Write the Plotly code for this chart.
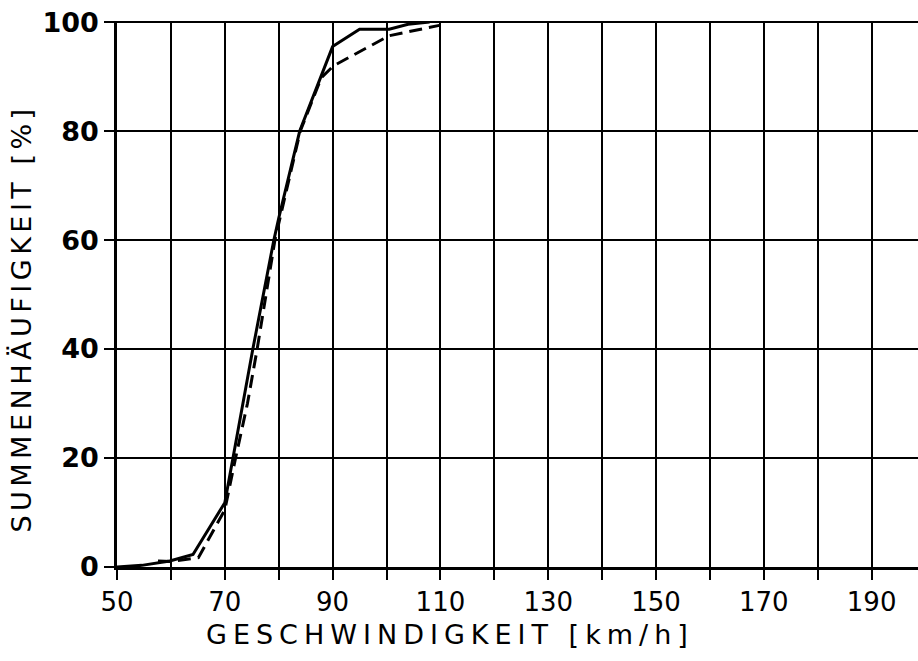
import plotly.graph_objects as go

# Data
solid_x = [50, 54.6, 59.8, 64.1, 70, 71.5, 73.4, 75.2, 79.1, 80, 83.9, 90, 95, 100.5, 104, 108]
solid_y = [0, 0.3, 1.1, 2.3, 11.8, 20, 30, 40, 60, 64, 80, 95.5, 98.7, 98.7, 99.6, 100]

dash_x = [57.6, 60, 65.1, 70, 72, 74.2, 76, 79.3, 80, 84, 87.9, 90.2, 100.5, 109.8]
dash_y = [1.1, 1.0, 1.7, 10.5, 20, 30, 40, 60, 63, 80, 89.8, 92, 97.5, 99.4]

x_title = "GESCHWINDIGKEIT [km/h]"
y_title = "SUMMENHÄUFIGKEIT [%]"

fig = go.Figure()
fig.add_trace(go.Scatter(x=solid_x, y=solid_y, mode="lines",
                         line=dict(color="black", width=3), showlegend=False))
fig.add_trace(go.Scatter(x=dash_x, y=dash_y, mode="lines",
                         line=dict(color="black", width=3, dash="13px,7px"), showlegend=False))

ytick_font = dict(family="DejaVu Sans, sans-serif", size=27, color="black", weight="bold")
xtick_font = dict(family="DejaVu Sans, sans-serif", size=26, color="black")
title_font = dict(family="DejaVu Sans, sans-serif", size=27, color="black")

fig.update_layout(
    width=918, height=661,
    margin=dict(l=117, r=0, t=21, b=94),
    plot_bgcolor="white", paper_bgcolor="white",
    xaxis=dict(
        range=[50, 198.6], tick0=50, dtick=20,
        showgrid=True, gridcolor="black", gridwidth=2,
        minor=dict(dtick=10, tick0=50, showgrid=True, gridcolor="black", gridwidth=2,
                   ticks="outside", ticklen=10, tickcolor="black", tickwidth=1.5),
        ticks="outside", ticklen=10, tickcolor="black", tickwidth=1.5,
        showline=True, linecolor="black", linewidth=2.5,
        tickfont=xtick_font, zeroline=False,
    ),
    yaxis=dict(
        range=[0, 100.2], tick0=0, dtick=20,
        showgrid=True, gridcolor="black", gridwidth=2,
        ticks="outside", ticklen=10, tickcolor="black", tickwidth=1.5,
        showline=True, linecolor="black", linewidth=2.5,
        tickfont=ytick_font, zeroline=False,
    ),
    annotations=[
        dict(text='<span style="letter-spacing:6px">' + x_title + '</span>',
             xref="paper", yref="paper", x=0.4157, y=-0.1245,
             xanchor="center", yanchor="middle", showarrow=False, font=title_font,
             borderpad=0),
        dict(text='<span style="letter-spacing:4.5px">' + y_title + '</span>',
             xref="paper", yref="paper", x=-0.1186, y=0.455, textangle=-90,
             xanchor="center", yanchor="middle", showarrow=False, font=title_font,
             borderpad=0),
    ],
)

fig.write_html("out.html")
